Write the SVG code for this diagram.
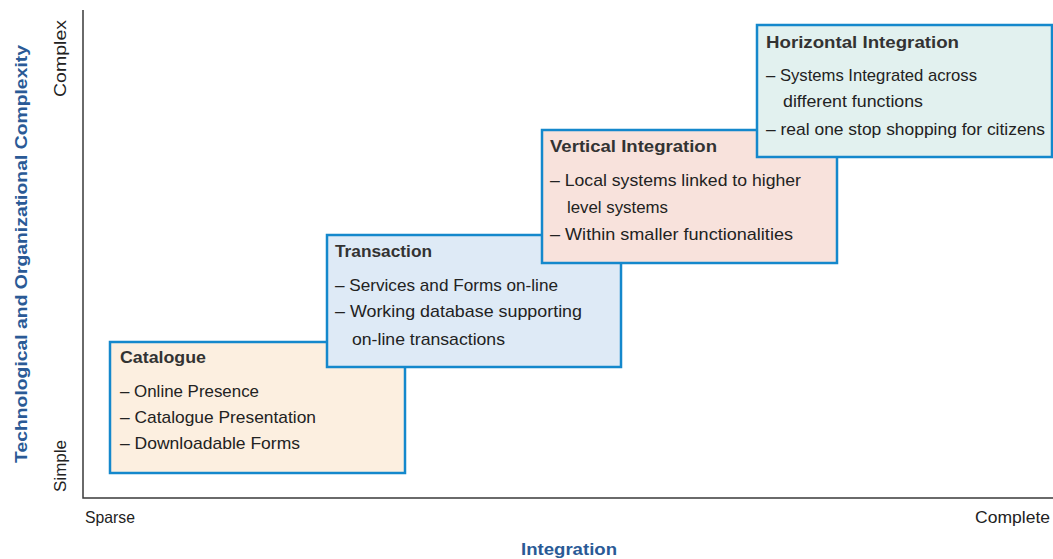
<svg xmlns="http://www.w3.org/2000/svg" width="1053" height="559" viewBox="0 0 1053 559">
  <style>
    .axis { stroke: #3a3a3a; stroke-width: 1.5; fill: none; }
    .box { stroke: #1488cc; stroke-width: 2.5; }
    .title { font-family: "Liberation Sans", Arial, sans-serif; font-size: 17px; font-weight: bold; fill: #333; }
    .item { font-family: "Liberation Sans", Arial, sans-serif; font-size: 17px; fill: #222; }
    .tick { font-family: "Liberation Sans", Arial, sans-serif; font-size: 16.5px; fill: #222; }
    .axlabel { font-family: "Liberation Sans", Arial, sans-serif; font-size: 17px; font-weight: bold; fill: #2a5a96; }
  </style>

  <g id="axes">
    <polyline class="axis" points="83,10 83,498 1053,498"/>
    <text class="axlabel" transform="translate(27,254) rotate(-90)" text-anchor="middle" textLength="418" lengthAdjust="spacingAndGlyphs">Technological and Organizational Complexity</text>
    <text class="tick" transform="translate(66,97) rotate(-90)" textLength="77" lengthAdjust="spacingAndGlyphs">Complex</text>
    <text class="tick" transform="translate(66,492) rotate(-90)" textLength="52" lengthAdjust="spacingAndGlyphs">Simple</text>
    <text class="tick" x="85" y="523" textLength="50" lengthAdjust="spacingAndGlyphs">Sparse</text>
    <text class="tick" x="975" y="523" textLength="75" lengthAdjust="spacingAndGlyphs">Complete</text>
    <text class="axlabel" x="521" y="555" textLength="96" lengthAdjust="spacingAndGlyphs">Integration</text>
  </g>

  <g id="catalogue">
    <rect class="box" x="110" y="342" width="295" height="131" fill="#fcefe0"/>
    <text class="title" x="120" y="363" textLength="86" lengthAdjust="spacingAndGlyphs">Catalogue</text>
    <text class="item" x="120" y="397" textLength="139" lengthAdjust="spacingAndGlyphs">– Online Presence</text>
    <text class="item" x="120" y="423" textLength="196" lengthAdjust="spacingAndGlyphs">– Catalogue Presentation</text>
    <text class="item" x="120" y="449" textLength="180" lengthAdjust="spacingAndGlyphs">– Downloadable Forms</text>
  </g>

  <g id="transaction">
    <rect class="box" x="327" y="235" width="294" height="132" fill="#deeaf6"/>
    <text class="title" x="335" y="257" textLength="97" lengthAdjust="spacingAndGlyphs">Transaction</text>
    <text class="item" x="335" y="291" textLength="223" lengthAdjust="spacingAndGlyphs">– Services and Forms on-line</text>
    <text class="item" x="335" y="317" textLength="247" lengthAdjust="spacingAndGlyphs">– Working database supporting</text>
    <text class="item" x="352" y="345" textLength="153" lengthAdjust="spacingAndGlyphs">on-line transactions</text>
  </g>

  <g id="vertical">
    <rect class="box" x="542" y="130" width="295" height="133" fill="#f8e2dc"/>
    <text class="title" x="550" y="152" textLength="167" lengthAdjust="spacingAndGlyphs">Vertical Integration</text>
    <text class="item" x="550" y="186" textLength="251" lengthAdjust="spacingAndGlyphs">– Local systems linked to higher</text>
    <text class="item" x="567" y="213" textLength="101" lengthAdjust="spacingAndGlyphs">level systems</text>
    <text class="item" x="550" y="240" textLength="243" lengthAdjust="spacingAndGlyphs">– Within smaller functionalities</text>
  </g>

  <g id="horizontal">
    <rect class="box" x="757" y="25" width="295" height="132" fill="#e2f1ef"/>
    <text class="title" x="766" y="48" textLength="193" lengthAdjust="spacingAndGlyphs">Horizontal Integration</text>
    <text class="item" x="766" y="81" textLength="211" lengthAdjust="spacingAndGlyphs">– Systems Integrated across</text>
    <text class="item" x="783" y="107" textLength="140" lengthAdjust="spacingAndGlyphs">different functions</text>
    <text class="item" x="766" y="135" textLength="279" lengthAdjust="spacingAndGlyphs">– real one stop shopping for citizens</text>
  </g>

  <g id="connectors"/>
</svg>
